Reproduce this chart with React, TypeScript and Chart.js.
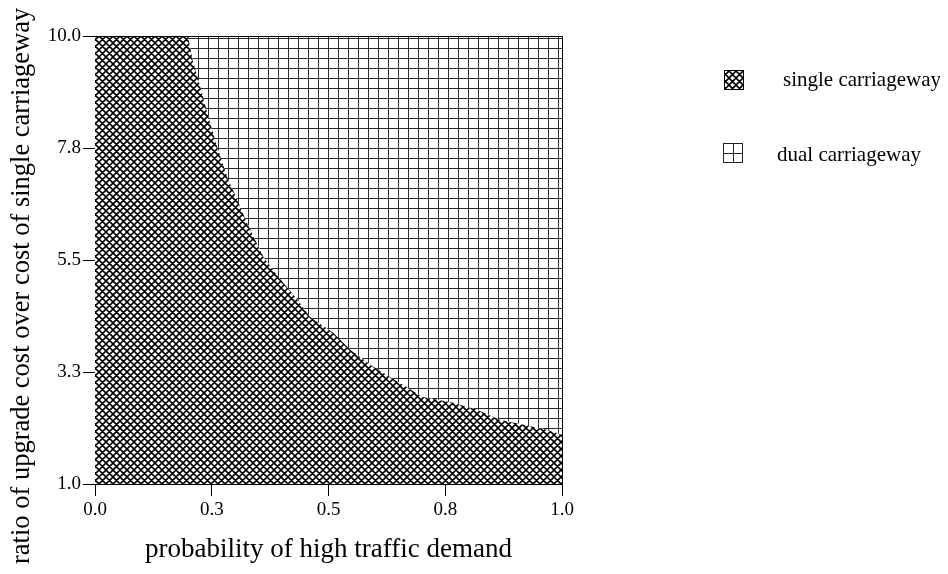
import React, { useEffect, useRef } from 'react';
import { Chart, registerables } from 'chart.js';

Chart.register(...registerables);

// Boundary between the two regions (probability, cost ratio)
const boundaryX = [0, 0.199, 0.21, 0.221, 0.24, 0.261, 0.285, 0.304, 0.325, 0.36, 0.392, 0.433, 0.46, 0.51, 0.546, 0.595, 0.653, 0.702, 0.767, 0.818, 0.867, 0.968, 1.0];
const boundaryY = [10, 10, 9.48, 9.13, 8.47, 7.79, 7.12, 6.72, 6.26, 5.57, 5.17, 4.71, 4.36, 4.04, 3.7, 3.36, 3.03, 2.75, 2.63, 2.49, 2.29, 2.09, 1.99];

const seriesLabels = ['single carriageway', 'dual carriageway'];

const xTickValues = [0, 0.25, 0.5, 0.75, 1];
const xTickLabels = ['0.0', '0.3', '0.5', '0.8', '1.0'];
const yTickValues = [1, 3.25, 5.5, 7.75, 10];
const yTickLabels = ['1.0', '3.3', '5.5', '7.8', '10.0'];

const xTitle = 'probability of high traffic demand';
const yTitle = 'ratio of upgrade cost over cost of single carriageway';

const SERIF = "'Liberation Serif', 'Times New Roman', serif";

function makeCross(): CanvasPattern {
  const s = 7;
  const c = document.createElement('canvas');
  c.width = s;
  c.height = s;
  const g = c.getContext('2d')!;
  g.fillStyle = '#fff';
  g.fillRect(0, 0, s, s);
  g.strokeStyle = '#000';
  g.lineWidth = 1.6;
  g.beginPath();
  for (const k of [-s, 0, s]) {
    g.moveTo(k, 0);
    g.lineTo(k + s, s);
    g.moveTo(k, s);
    g.lineTo(k + s, 0);
  }
  g.stroke();
  return g.createPattern(c, 'repeat')!;
}

function makeGrid(): CanvasPattern {
  const s = 10;
  const c = document.createElement('canvas');
  c.width = s;
  c.height = s;
  const g = c.getContext('2d')!;
  g.fillStyle = '#fff';
  g.fillRect(0, 0, s, s);
  g.fillStyle = '#2b2b2b';
  g.fillRect(0, 0, s, 1);
  g.fillRect(0, 0, 1, s);
  return g.createPattern(c, 'repeat')!;
}

export default function App() {
  const ref = useRef<HTMLCanvasElement>(null);

  useEffect(() => {
    const cross = makeCross();
    const grid = makeGrid();
    const pts = boundaryX.map((x, i) => ({ x, y: boundaryY[i] }));

    const framePlugin = {
      id: 'frame',
      afterDatasetsDraw(chart: any) {
        const { ctx, chartArea: a } = chart;
        ctx.save();
        ctx.strokeStyle = '#000';
        ctx.lineWidth = 1;
        ctx.beginPath();
        ctx.moveTo(a.left, a.top + 0.5);
        ctx.lineTo(a.right + 0.5, a.top + 0.5);
        ctx.lineTo(a.right + 0.5, a.bottom);
        ctx.stroke();
        ctx.restore();
      },
    };

    const extrasPlugin = {
      id: 'extras',
      afterDraw(chart: any) {
        const ctx = chart.ctx as CanvasRenderingContext2D;
        ctx.save();
        // y-axis title (rotated)
        ctx.translate(21, 556);
        ctx.rotate(-Math.PI / 2);
        ctx.font = `26.5px ${SERIF}`;
        ctx.fillStyle = '#000';
        ctx.textAlign = 'left';
        ctx.textBaseline = 'alphabetic';
        ctx.fillText(yTitle, 0, 0);
        ctx.restore();

        // legend
        ctx.save();
        ctx.font = `21px ${SERIF}`;
        ctx.fillStyle = '#000';
        ctx.textBaseline = 'middle';
        ctx.textAlign = 'left';
        // single box
        ctx.fillStyle = cross;
        ctx.fillRect(716, 62, 20, 20);
        ctx.strokeStyle = '#000';
        ctx.lineWidth = 1;
        ctx.strokeRect(716.5, 62.5, 19, 19);
        ctx.fillStyle = '#000';
        ctx.fillText(seriesLabels[0], 775, 72);
        // dual box
        ctx.fillStyle = '#fff';
        ctx.fillRect(715, 135, 20, 20);
        ctx.strokeStyle = '#222';
        ctx.strokeRect(715.5, 135.5, 19, 19);
        ctx.beginPath();
        ctx.moveTo(725.5, 135);
        ctx.lineTo(725.5, 155);
        ctx.moveTo(715, 145.5);
        ctx.lineTo(735, 145.5);
        ctx.stroke();
        ctx.fillStyle = '#000';
        ctx.fillText(seriesLabels[1], 769, 147);
        ctx.restore();
      },
    };

    const tickFont = { family: SERIF, size: 19 };

    const chart = new Chart(ref.current!, {
      type: 'line',
      data: {
        datasets: [
          {
            label: seriesLabels[0],
            data: pts,
            fill: 'start',
            backgroundColor: cross,
            borderColor: 'rgba(0,0,0,0)',
            borderWidth: 0,
            pointRadius: 0,
            tension: 0,
          },
          {
            label: seriesLabels[1],
            data: pts,
            fill: 'end',
            backgroundColor: grid,
            borderColor: 'rgba(0,0,0,0)',
            borderWidth: 0,
            pointRadius: 0,
            tension: 0,
          },
        ],
      },
      options: {
        responsive: false,
        animation: false,
        layout: { padding: { left: 0, top: 28, right: 378, bottom: 0 } },
        plugins: {
          legend: { display: false },
          tooltip: { enabled: false },
        },
        scales: {
          x: {
            type: 'linear',
            min: 0,
            max: 1,
            afterBuildTicks: (s: any) => {
              s.ticks = xTickValues.map((v) => ({ value: v }));
            },
            afterFit: (s: any) => {
              s.height = 82;
            },
            ticks: {
              callback: (v: any) => xTickLabels[xTickValues.indexOf(Number(v))],
              font: tickFont,
              color: '#000',
              padding: 3,
              maxRotation: 0,
              autoSkip: false,
            },
            grid: { drawOnChartArea: false, drawTicks: true, tickLength: 12, color: '#000', lineWidth: 1 },
            border: { display: true, color: '#000', width: 1 },
            title: {
              display: true,
              text: xTitle,
              font: { family: SERIF, size: 27 },
              color: '#000',
              padding: { top: 0, bottom: 0 },
            },
          },
          y: {
            type: 'linear',
            min: 1,
            max: 10,
            afterBuildTicks: (s: any) => {
              s.ticks = yTickValues.map((v) => ({ value: v }));
            },
            afterFit: (s: any) => {
              s.width = 87;
            },
            ticks: {
              callback: (v: any) => yTickLabels[yTickValues.indexOf(Number(v))],
              font: tickFont,
              color: '#000',
              padding: 2,
              autoSkip: false,
            },
            grid: { drawOnChartArea: false, drawTicks: true, tickLength: 12, color: '#000', lineWidth: 1 },
            border: { display: true, color: '#000', width: 1 },
          },
        },
      },
      plugins: [framePlugin, extrasPlugin],
    });
    return () => chart.destroy();
  }, []);

  return (
    <div style={{ width: 932, height: 558 }}>
      <canvas ref={ref} width={932} height={558} style={{ display: 'block' }} />
    </div>
  );
}
